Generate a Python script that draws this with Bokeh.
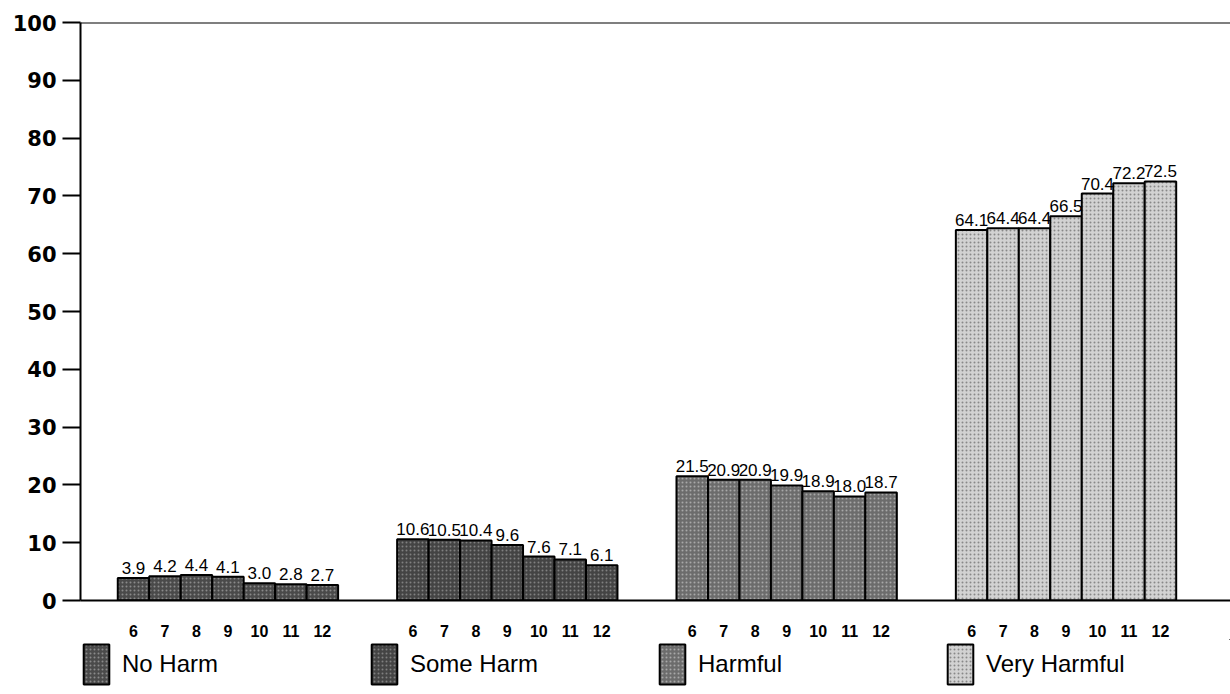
from bokeh.plotting import figure
from bokeh.layouts import column
from bokeh.models import ColumnDataSource, FixedTicker, Span, Legend, LegendItem, Range1d, LabelSet
from bokeh.core.properties import value
from bokeh.embed import file_html
from bokeh.resources import INLINE

categories = ["No Harm", "Some Harm", "Harmful", "Very Harmful"]
grades = [6, 7, 8, 9, 10, 11, 12]
no_harm = [3.9, 4.2, 4.4, 4.1, 3.0, 2.8, 2.7]
some_harm = [10.6, 10.5, 10.4, 9.6, 7.6, 7.1, 6.1]
harmful = [21.5, 20.9, 20.9, 19.9, 18.9, 18.0, 18.7]
very_harmful = [64.1, 64.4, 64.4, 66.5, 70.4, 72.2, 72.5]
series = [no_harm, some_harm, harmful, very_harmful]
y_ticks = [0, 10, 20, 30, 40, 50, 60, 70, 80, 90, 100]

fills = ["#4a4a4a", "#444444", "#6c6c6c", "#d2d2d2"]
hatch_colors = ["#8a8a8a", "#808080", "#a8a8a8", "#888888"]
GROUP_STEP = 8.875

p = figure(frame_width=1150, frame_height=578, output_backend="svg", toolbar_location=None,
           x_range=Range1d(-1.684, 34.85), y_range=Range1d(0, 100),
           min_border_left=80, min_border_right=0, min_border_top=22, min_border_bottom=0)
p.outline_line_color = None
p.xgrid.grid_line_color = None
p.ygrid.grid_line_color = None
p.background_fill_color = "white"

lf = figure(frame_width=1150, frame_height=54, output_backend="svg", toolbar_location=None,
            x_range=Range1d(0, 1), y_range=Range1d(0, 1),
            x_axis_location=None, y_axis_location=None,
            min_border_left=80, min_border_right=0, min_border_top=0, min_border_bottom=0)
lf.outline_line_color = None
lf.xgrid.grid_line_color = None
lf.ygrid.grid_line_color = None

tick_pos = []
tick_over = {}
items = []
for g, (cat, vals) in enumerate(zip(categories, series)):
    xs = [g * GROUP_STEP + i for i in range(len(grades))]
    src = ColumnDataSource(dict(x=xs, top=vals, lab=["%.1f" % v for v in vals]))
    style = dict(fill_color=fills[g], line_color="black", line_width=2,
                 hatch_pattern=".", hatch_color=hatch_colors[g], hatch_scale=4, hatch_weight=1)
    p.vbar(x="x", top="top", width=1.0, bottom=0, source=src, **style)
    labels = LabelSet(x="x", y="top", text="lab", source=src, text_align="center",
                      text_baseline="bottom", y_offset=4, text_font=value("Liberation Sans"),
                      text_font_size=value("17px"), text_color="black")
    p.add_layout(labels)
    for x, gr in zip(xs, grades):
        tick_pos.append(x)
        tick_over[x] = str(gr)
    # legend-only renderer, kept outside the legend figure's visible range
    lr = lf.vbar(x=[50], top=[60], width=1.0, bottom=[55], **style)
    items.append(LegendItem(label=cat, renderers=[lr]))

p.add_layout(Span(location=100, dimension="width", line_color="black", line_width=2))

ya = p.yaxis[0]
ya.ticker = FixedTicker(ticks=y_ticks)
ya.major_tick_out = 18
ya.major_tick_in = 0
ya.minor_tick_line_color = None
ya.major_tick_line_width = 2
ya.axis_line_width = 2
ya.major_label_standoff = 6
ya.major_label_text_font = "DejaVu Sans"
ya.major_label_text_font_style = "bold"
ya.major_label_text_font_size = "21px"
ya.major_label_text_color = "black"

xa = p.xaxis[0]
xa.ticker = FixedTicker(ticks=tick_pos)
xa.major_label_overrides = tick_over
xa.major_tick_line_color = None
xa.minor_tick_line_color = None
xa.major_tick_out = 0
xa.major_tick_in = 0
xa.axis_line_width = 2
xa.major_label_standoff = 24
xa.major_label_text_font = "Liberation Sans"
xa.major_label_text_font_style = "bold"
xa.major_label_text_font_size = "16px"
xa.major_label_text_color = "black"

legend = Legend(items=items, orientation="horizontal", location="top_left",
                glyph_width=32, glyph_height=50, label_standoff=10, label_width=246,
                spacing=0, padding=0, margin=0, border_line_color=None,
                background_fill_alpha=0, label_text_font="Liberation Sans",
                label_text_font_size="24px", label_text_color="black")
lf.add_layout(legend, "center")

layout = column(p, lf, spacing=0)
open("out.html", "w").write(file_html(layout, INLINE))
